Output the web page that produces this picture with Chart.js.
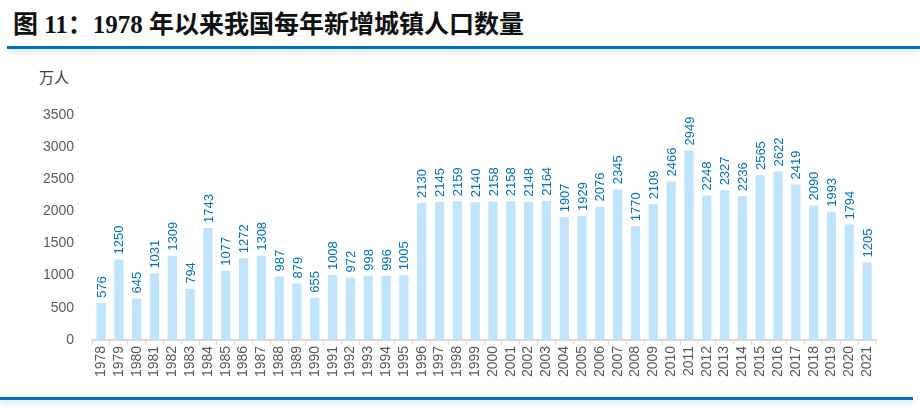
<!DOCTYPE html>
<html>
<head>
<meta charset="utf-8">
<script src="https://cdn.jsdelivr.net/npm/chart.js@4/dist/chart.umd.min.js"></script>
<style>
  body { margin: 0; width: 920px; height: 410px; background: #fff; position: relative; overflow: hidden; }
  #title { position: absolute; left: 13px; top: 4px; font: bold 25px "Liberation Serif", "Noto Sans CJK SC", serif; color: #111; white-space: nowrap; }
  .rule { position: absolute; height: 3px; background: #0070C0; box-shadow: 0 3px 4px rgba(0,112,192,0.18); }
  #unit { position: absolute; left: 39px; top: 66px; font: 15px "Noto Sans CJK SC", sans-serif; color: #404040; }
  #wrap { position: absolute; left: 0; top: 0; width: 920px; height: 410px; }
</style>
</head>
<body>
<div id="title">图 11：1978 年以来我国每年新增城镇人口数量</div>
<div class="rule" style="left:7px; top:46px; width:913px;"></div>
<div class="rule" style="left:0; top:397px; width:913px;"></div>
<div id="unit">万人</div>
<div id="wrap"><canvas id="c"></canvas></div>
<script>
const years = ['1978','1979','1980','1981','1982','1983','1984','1985','1986','1987','1988','1989','1990',
  '1991','1992','1993','1994','1995','1996','1997','1998','1999','2000','2001','2002','2003','2004','2005',
  '2006','2007','2008','2009','2010','2011','2012','2013','2014','2015','2016','2017','2018','2019','2020','2021'];
const newUrban = [576,1250,645,1031,1309,794,1743,1077,1272,1308,987,879,655,
  1008,972,998,996,1005,2130,2145,2159,2140,2158,2158,2148,2164,1907,1929,
  2076,2345,1770,2109,2466,2949,2248,2327,2236,2565,2622,2419,2090,1993,1794,1205];
const yTicks = [0,500,1000,1500,2000,2500,3000,3500];

// rotated value labels above each bar
const barLabels = {
  id: 'barLabels',
  afterDatasetsDraw(chart) {
    const ctx = chart.ctx;
    const meta = chart.getDatasetMeta(0);
    ctx.save();
    ctx.fillStyle = '#0070C0';
    ctx.font = '13px "Liberation Sans", Arial, sans-serif';
    ctx.textAlign = 'left';
    ctx.textBaseline = 'middle';
    meta.data.forEach((bar, i) => {
      ctx.save();
      ctx.translate(bar.x + 1, bar.y - 5);
      ctx.rotate(-Math.PI / 2);
      ctx.fillText(String(newUrban[i]), 0, 0);
      ctx.restore();
    });
    ctx.restore();
  }
};

new Chart(document.getElementById('c'), {
  type: 'bar',
  data: {
    labels: years,
    datasets: [{
      data: newUrban,
      backgroundColor: '#BFE4FB',
      barPercentage: 0.52,
      categoryPercentage: 1
    }]
  },
  options: {
    responsive: true,
    maintainAspectRatio: false,
    animation: false,
    layout: { padding: { left: 33, right: 44, top: 115, bottom: 32 } },
    plugins: { legend: { display: false }, tooltip: { enabled: false } },
    scales: {
      x: {
        grid: { drawOnChartArea: false, drawTicks: true, tickLength: 5, color: '#D9D9D9', offset: true },
        border: { color: '#D9D9D9', width: 2 },
        ticks: { minRotation: 90, maxRotation: 90, autoSkip: false, color: '#595959', padding: 1,
          font: { size: 14, family: '"Liberation Sans", Arial, sans-serif' } }
      },
      y: {
        min: 0, max: 3500,
        afterBuildTicks: axis => { axis.ticks = yTicks.map(v => ({ value: v })); },
        grid: { display: false },
        border: { display: false },
        ticks: { color: '#595959', padding: 10, callback: v => String(v),
          font: { size: 14, family: '"Liberation Sans", Arial, sans-serif' } }
      }
    }
  },
  plugins: [barLabels]
});
</script>
</body>
</html>
